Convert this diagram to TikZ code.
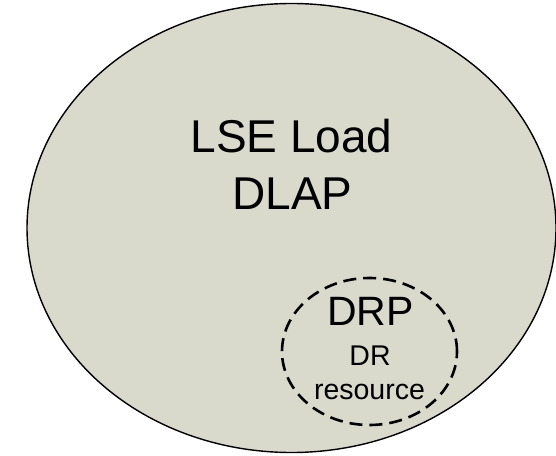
\documentclass[tikz,border=0pt]{standalone}
\usepackage{fontspec}
\setmainfont{Liberation Sans}
\usetikzlibrary{shapes.geometric}
\definecolor{areafill}{RGB}{217,218,203}
\tikzset{
  bigarea/.style={ellipse, draw=black, line width=1.4pt, fill=areafill, inner sep=0pt},
  subarea/.style={ellipse, draw=black, line width=2.6pt, dash pattern=on 13pt off 7pt, inner sep=0pt},
  bigtext/.style={anchor=base, inner sep=0pt, font=\fontsize{46}{52}\selectfont},
  midtext/.style={anchor=base, inner sep=0pt, font=\fontsize{41}{46}\selectfont},
  smalltext/.style={anchor=base, inner sep=0pt, font=\fontsize{28.5}{33}\selectfont}
}
\begin{document}
\begin{tikzpicture}[x=1pt,y=1pt]
\useasboundingbox (0,0) rectangle (556,455);
\node[bigarea, minimum width=529pt, minimum height=449pt] (lse) at (291.5,227) {};
\node[subarea, minimum width=175pt, minimum height=147pt] (drp) at (369.5,103.5) {};
\node[bigtext] (t1) at (291.5,302) {LSE Load};
\node[bigtext] (t2) at (292.5,245) {DLAP};
\node[midtext] (t3) at (370.5,129) {DRP};
\node[smalltext] (t4) at (370,90) {DR};
\node[smalltext] (t5) at (369.5,56) {resource};
\end{tikzpicture}
\end{document}
